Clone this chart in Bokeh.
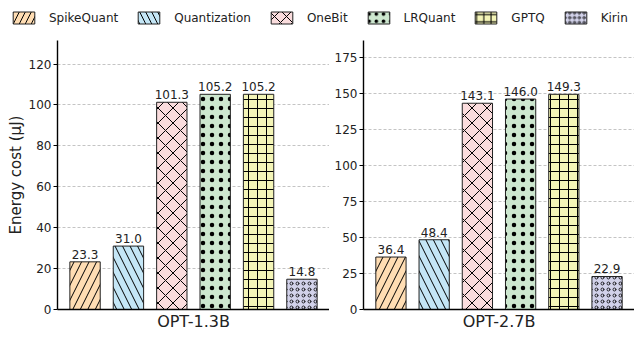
from bokeh.plotting import figure
from bokeh.models import Range1d, FixedTicker, ColumnDataSource, Legend, LegendItem
from bokeh.layouts import column, row
from bokeh.embed import file_html
from bokeh.resources import INLINE

# ---- data ----
methods = ["SpikeQuant", "Quantization", "OneBit", "LRQuant", "GPTQ", "Kirin"]
models = ["OPT-1.3B", "OPT-2.7B"]
energy_opt13b = [23.3, 31.0, 101.3, 105.2, 105.2, 14.8]
energy_opt27b = [36.4, 48.4, 143.1, 146.0, 149.3, 22.9]
yticks_opt13b = [0, 20, 40, 60, 80, 100, 120]
yticks_opt27b = [0, 25, 50, 75, 100, 125, 150, 175]

# ---- styles ----
fills = ["#FFDDB3", "#C4E6F6", "#FADCDD", "#CDE7CF", "#F4F5B7", "#D2D2EA"]
hatches = ["/", "\\", "x", ".", "+", "o"]
hatch_scales = [15, 15, 15, 9, 9, 6]
hatch_weights = [1.0, 1.0, 1.0, 0.3, 1.0, 0.8]
FONT = "DejaVu Sans"


def panel(values, ticks, label, width, border_left):
    idx = list(range(len(methods)))
    src = ColumnDataSource(dict(
        x=idx, top=values, fill=fills, hatch=hatches,
        hs=hatch_scales, hw=hatch_weights,
        lbl=["%.1f" % v for v in values]))
    p = figure(width=width, height=297, output_backend="svg", toolbar_location=None,
               x_range=Range1d(-0.635, len(methods) - 1 + 0.635),
               y_range=Range1d(0, 1.25 * max(values)),
               min_border_left=border_left, min_border_right=0,
               min_border_top=0, min_border_bottom=28)
    p.outline_line_color = None
    p.xgrid.visible = False
    p.ygrid.ticker = FixedTicker(ticks=ticks)
    p.ygrid.grid_line_color = "#b5b5b5"
    p.ygrid.grid_line_dash = "3 2"
    p.ygrid.grid_line_width = 0.8
    p.vbar(x="x", top="top", width=0.7, source=src, fill_color="fill",
           line_color="#222222", line_width=1,
           hatch_pattern="hatch", hatch_scale="hs", hatch_weight="hw",
           hatch_color="black")
    p.text(x="x", y="top", text="lbl", source=src, text_align="center",
           text_baseline="bottom", y_offset=-3, text_font_size="12px",
           text_font={"value": FONT}, text_color="#222222")
    # y axis
    ya = p.yaxis[0]
    ya.ticker = FixedTicker(ticks=ticks)
    ya.major_label_text_font_size = "12px"
    ya.major_label_text_font = FONT
    ya.major_label_text_color = "#222222"
    ya.major_tick_in = 0
    ya.major_tick_out = 4
    ya.minor_tick_line_color = None
    ya.axis_line_width = 1.4
    ya.axis_line_color = "black"
    ya.major_tick_line_color = "black"
    ya.major_label_standoff = 2
    # x axis
    xa = p.xaxis[0]
    xa.ticker = FixedTicker(ticks=[])
    xa.major_label_text_font_size = "0px"
    xa.major_tick_line_color = None
    xa.minor_tick_line_color = None
    xa.axis_line_width = 1.4
    xa.axis_line_color = "black"
    xa.axis_label = label
    xa.axis_label_text_font_size = "16px"
    xa.axis_label_text_font = FONT
    xa.axis_label_text_font_style = "normal"
    xa.axis_label_text_color = "#222222"
    xa.axis_label_standoff = 2
    return p


p1 = panel(energy_opt13b, yticks_opt13b, models[0], 329, 57)
p1.yaxis[0].axis_label = "Energy cost (μJ)"
p1.yaxis[0].axis_label_text_font_size = "15px"
p1.yaxis[0].axis_label_text_font = FONT
p1.yaxis[0].axis_label_text_font_style = "normal"
p1.yaxis[0].axis_label_text_color = "#222222"
p1.yaxis[0].axis_label_standoff = 1

p2 = panel(energy_opt27b, yticks_opt27b, models[1], 305, 34)

# legend strip
pl = figure(width=634, height=40, output_backend="svg", toolbar_location=None,
            x_range=Range1d(0, 1), y_range=Range1d(0, 1),
            min_border_left=0, min_border_right=0, min_border_top=0, min_border_bottom=0)
pl.axis.visible = False
pl.grid.visible = False
pl.outline_line_color = None
items = []
for i, m in enumerate(methods):
    r = pl.vbar(x=[5], top=[10], bottom=[9], width=0.1, fill_color=fills[i],
                line_color="#222222", line_width=1, hatch_pattern=hatches[i],
                hatch_scale=hatch_scales[i] * 0.8, hatch_weight=hatch_weights[i],
                hatch_color="black")
    items.append(LegendItem(label=m, renderers=[r]))
leg = Legend(items=items, orientation="horizontal", location=(10, 15),
             glyph_width=27, glyph_height=15, label_standoff=12, spacing=17,
             padding=0, margin=0, border_line_color=None,
             background_fill_alpha=0, label_text_font_size="12px",
             label_text_font=FONT, label_text_color="#222222",
             label_height=15)
pl.add_layout(leg, "center")

layout = column(pl, row(p1, p2))
open("out.html", "w").write(file_html(layout, INLINE))
